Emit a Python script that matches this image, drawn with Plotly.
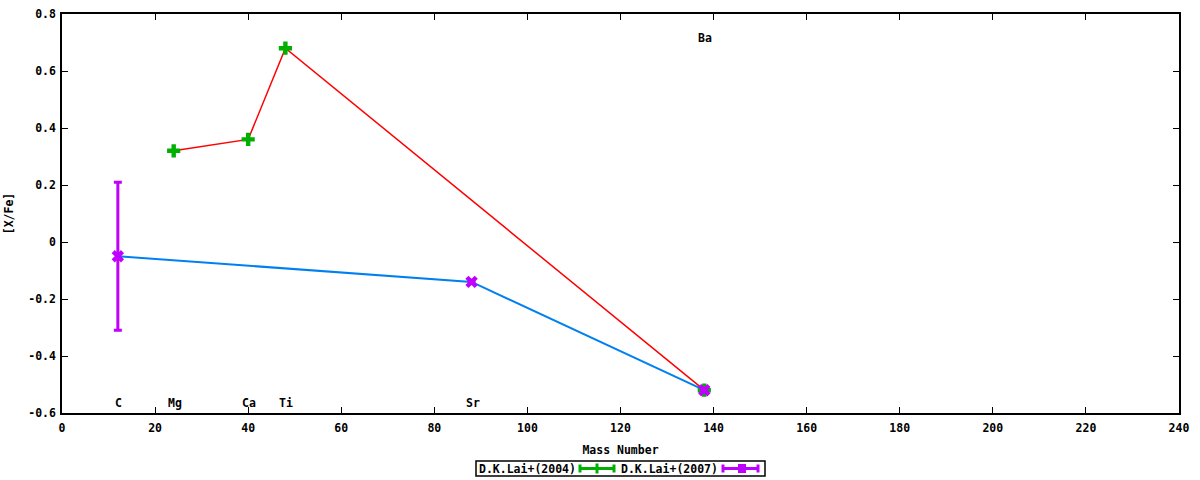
import plotly.graph_objects as go

# ---- data ----
elements = ["C", "Mg", "Ca", "Ti", "Sr", "Ba"]
element_mass = [12, 24, 40, 48, 88, 138]
label_y = [-0.565, -0.565, -0.565, -0.565, -0.565, 0.715]

lai2004_mass = [24, 40, 48, 138]
lai2004_xfe = [0.32, 0.36, 0.68, -0.52]

lai2007_mass = [12, 88, 138]
lai2007_xfe = [-0.05, -0.14, -0.52]
lai2007_err = [0.26, None, None]

x_ticks = [0, 20, 40, 60, 80, 100, 120, 140, 160, 180, 200, 220, 240]
y_ticks = [-0.6, -0.4, -0.2, 0, 0.2, 0.4, 0.6, 0.8]
y_tick_text = ["-0.6", "-0.4", "-0.2", "0", "0.2", "0.4", "0.6", "0.8"]

GREEN = "#00b000"
RED = "#ff0000"
BLUE = "#0080f0"
PURPLE = "#c000ff"
FONT = "DejaVu Sans Mono"

def f(size=11.5):
    return dict(family=FONT, size=size, color="black", weight="bold")

fig = go.Figure()

fig.add_trace(go.Scatter(
    x=lai2004_mass, y=lai2004_xfe, mode="lines+markers",
    line=dict(color=RED, width=1.5),
    marker=dict(symbol="cross", size=11, color=GREEN),
    name="D.K.Lai+(2004)", showlegend=False, cliponaxis=False))

fig.add_trace(go.Scatter(
    x=lai2007_mass, y=lai2007_xfe, mode="lines+markers",
    line=dict(color=BLUE, width=2),
    marker=dict(symbol="x", size=11, color=PURPLE),
    error_y=dict(type="data", array=lai2007_err, color=PURPLE, thickness=3, width=4),
    name="D.K.Lai+(2007)", showlegend=False, cliponaxis=False))

annotations = []
for el, m, ly in zip(elements, element_mass, label_y):
    annotations.append(dict(x=m, y=ly, xref="x", yref="y", text=el, showarrow=False,
                            font=f(11.5), xanchor="center", yanchor="middle", xshift=1))

# manual gnuplot-style legend (paper coords)
def px(x):
    return (x - 62) / 1117.0

def py(y):
    return (413 - y) / 399.0

shapes = [dict(type="rect", xref="paper", yref="paper",
               x0=px(476), x1=px(765), y0=py(461), y1=py(476),
               line=dict(color="black", width=1.5), fillcolor="white", layer="below")]

annotations.append(dict(x=px(477), y=py(468.5), xref="paper", yref="paper",
                        text="D.K.Lai+(2004)", showarrow=False, xanchor="left", yanchor="middle",
                        font=f(11.5)))
annotations.append(dict(x=px(619), y=py(468.5), xref="paper", yref="paper",
                        text="D.K.Lai+(2007)", showarrow=False, xanchor="left", yanchor="middle",
                        font=f(11.5)))

def sample(x0, x1, xm, color, plus):
    out = []
    out.append(dict(type="line", xref="paper", yref="paper", x0=px(x0), x1=px(x1),
                    y0=py(468.5), y1=py(468.5), line=dict(color=color, width=3)))
    for xc in (x0, x1):
        out.append(dict(type="line", xref="paper", yref="paper", x0=px(xc), x1=px(xc),
                        y0=py(464.5), y1=py(472.5), line=dict(color=color, width=3)))
    if plus:
        out.append(dict(type="line", xref="paper", yref="paper", x0=px(xm), x1=px(xm),
                        y0=py(463.5), y1=py(473.5), line=dict(color=color, width=3)))
    else:
        out.append(dict(type="rect", xref="paper", yref="paper", x0=px(xm - 4), x1=px(xm + 4),
                        y0=py(464), y1=py(473), line=dict(width=0), fillcolor=color))
    return out

shapes += sample(580, 614, 597, GREEN, True)
shapes += sample(723, 758, 742, PURPLE, False)

fig.update_layout(
    width=1200, height=480,
    margin=dict(l=62, r=21, t=14, b=67, autoexpand=False),
    paper_bgcolor="white", plot_bgcolor="white",
    font=f(11.5),
    annotations=annotations, shapes=shapes,
    showlegend=False,
)

fig.update_xaxes(range=[0, 240], tickvals=x_ticks, ticks="inside", ticklen=6,
                 tickcolor="black", showline=True, linecolor="black", linewidth=1.5,
                 mirror="ticks", showgrid=False, zeroline=False, automargin=False,
                 ticklabelstandoff=3,
                 title=dict(text="Mass Number", font=f(11.5), standoff=12),
                 tickfont=f(11.5))
fig.update_yaxes(range=[-0.6, 0.8], tickvals=y_ticks, ticktext=y_tick_text, ticks="inside",
                 ticklen=6, tickcolor="black", showline=True, linecolor="black", linewidth=1.5,
                 mirror="ticks", showgrid=False, zeroline=False, automargin=False,
                 ticklabelstandoff=2,
                 title=dict(text="[X/Fe]", font=f(11.5), standoff=12),
                 tickfont=f(11.5))

fig.write_html("out.html", config={"displayModeBar": False},
               post_script="document.body.style.margin='0';document.body.style.padding='0';")
